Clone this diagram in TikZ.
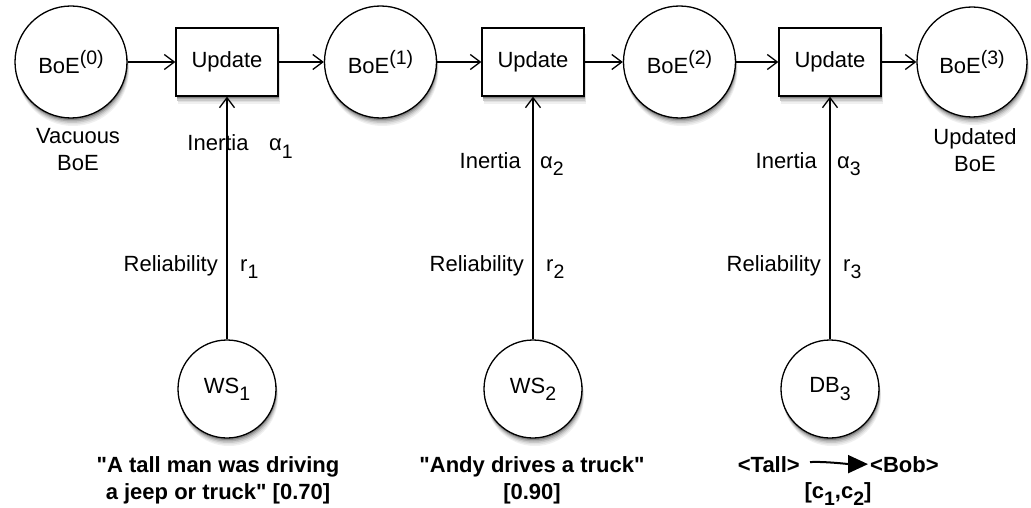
\documentclass[tikz,border=0pt]{standalone}
\usepackage{fontspec}
\setmainfont{Liberation Sans}[Ligatures=TeXOff]
\usetikzlibrary{arrows.meta}
\newcommand{\mysub}[1]{\raisebox{-0.33em}{\fontsize{19.5}{19.5}\selectfont #1}}
\newcommand{\mysup}[1]{\raisebox{0.42em}{\fontsize{19.5}{19.5}\selectfont #1}}
\newcommand{\shadowcirc}[3]{%
  \foreach \d/\c in {8/6,6.5/12,5/21,3.5/33,2/48}{%
    \fill[black!\c] (#1+0.25*\d,#2+\d) circle[radius=#3];}}
\newcommand{\shadowrect}[2]{%
  \foreach \d/\c in {8/6,6.5/12,5/21,3.5/33,2/48}{%
    \fill[black!\c] (#1-51+0.25*\d,#2-34+\d) rectangle (#1+51+0.25*\d,#2+34+\d);}}
\begin{document}
\begin{tikzpicture}[x=1pt,y=-1pt,
  every node/.style={font=\fontsize{22}{27}\selectfont},
  state/.style={circle,draw,line width=1.3pt,fill=white,minimum size=112pt,inner sep=0pt},
  src/.style={state,minimum size=98pt},
  upd/.style={rectangle,draw,line width=1.3pt,fill=white,minimum width=102pt,minimum height=68pt,inner sep=0pt},
  flow/.style={line width=1.3pt,-{Straight Barb[length=10pt,width=15pt,line width=1.3pt]}},
  lab/.style={inner sep=0pt},
  quote/.style={inner sep=0pt,font=\fontsize{22}{27}\selectfont\bfseries},
  implies/.style={line width=2pt,-{Triangle[length=20pt,width=18pt]}}
]
\useasboundingbox (0,0) rectangle (1031,508);

% soft shadows
\shadowcirc{71}{62}{56}
\shadowcirc{380.5}{62}{56}
\shadowcirc{679.5}{62}{56}
\shadowcirc{972}{62}{55}
\shadowrect{227}{62}
\shadowrect{533}{62}
\shadowrect{830}{62}
\shadowcirc{227}{389}{49}
\shadowcirc{533}{389}{49}
\shadowcirc{830}{389}{49}

% top row
\node[state] (b0) at (71,62) {BoE\mysup{(0)}};
\node[upd]   (u1) at (227,62) {Update};
\node[state] (b1) at (380.5,62) {BoE\mysup{(1)}};
\node[upd]   (u2) at (533,62) {Update};
\node[state] (b2) at (679.5,62) {BoE\mysup{(2)}};
\node[upd]   (u3) at (830,62) {Update};
\node[state,minimum size=110pt] (b3) at (972,62) {BoE\mysup{(3)}};

\draw[flow] (b0) -- (u1);
\draw[flow] (u1) -- (b1);
\draw[flow] (b1) -- (u2);
\draw[flow] (u2) -- (b2);
\draw[flow] (b2) -- (u3);
\draw[flow] (u3) -- (b3);

\node[lab,align=center] (vac) at (78,150) {Vacuous\\BoE};
\node[lab,align=center] (upb) at (975,150) {Updated\\BoE};

% sources
\node[src] (ws1) at (227,389) {WS\mysub{1}};
\node[src] (ws2) at (533,389) {WS\mysub{2}};
\node[src] (db3) at (830,389) {DB\mysub{3}};

\draw[flow] (ws1) -- (u1);
\draw[flow] (ws2) -- (u2);
\draw[flow] (db3) -- (u3);

% inertia labels
\node[lab,anchor=base] (in1) at (218,151) {Inertia};
\node[lab,anchor=base west] (al1) at (269,151) {α\mysub{1}};
\node[lab,anchor=base east] (in2) at (521,168) {Inertia};
\node[lab,anchor=base west] (al2) at (540,168) {α\mysub{2}};
\node[lab,anchor=base east] (in3) at (817,168) {Inertia};
\node[lab,anchor=base west] (al3) at (837,168) {α\mysub{3}};

% reliability labels
\node[lab,anchor=base east] (re1) at (218,271) {Reliability};
\node[lab,anchor=base west] (r1) at (240,271) {r\mysub{1}};
\node[lab,anchor=base east] (re2) at (524,271) {Reliability};
\node[lab,anchor=base west] (r2) at (546,271) {r\mysub{2}};
\node[lab,anchor=base east] (re3) at (821,271) {Reliability};
\node[lab,anchor=base west] (r3) at (843,271) {r\mysub{3}};

% bottom texts
\node[quote,anchor=base] (q1a) at (218,472) {"A tall man was driving};
\node[quote,anchor=base] (q1b) at (218,499) {a jeep or truck" [0.70]};
\node[quote,anchor=base] (q2a) at (532,472) {"Andy drives a truck"};
\node[quote,anchor=base] (q2b) at (532,499) {[0.90]};
\node[quote,anchor=base east] (tall) at (800,472) {<Tall>};
\node[quote,anchor=base west] (bob) at (870,472) {<Bob>};
\node[quote,anchor=base] (cc) at (838,498) {[c\mysub{1},c\mysub{2}]};
\draw[implies] ([xshift=10pt,yshift=2pt]tall.east) .. controls +(12,-1) and +(-18,0) .. ([xshift=-2pt]bob.west);
\end{tikzpicture}
\end{document}
